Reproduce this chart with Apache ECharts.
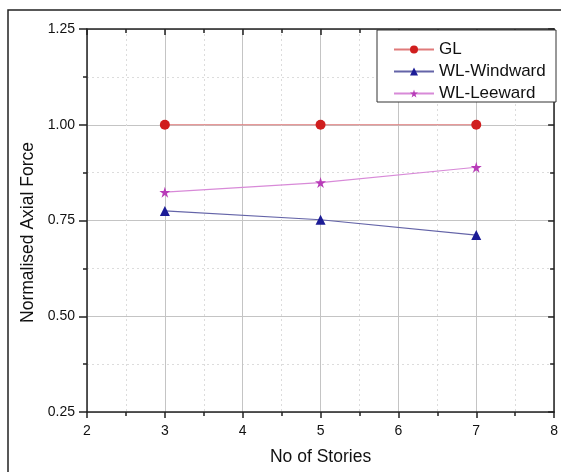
<!DOCTYPE html>
<html><head><meta charset="utf-8">
<script src="https://cdn.jsdelivr.net/npm/echarts@6/dist/echarts.min.js"></script>
<style>html,body{margin:0;padding:0;background:#fff}#c{width:561px;height:472px}</style>
</head><body><div id="c"></div>
<script>
const stories = [3, 5, 7];
const glValues = [1.0, 1.0, 1.0];
const windwardValues = [0.775, 0.752, 0.712];
const leewardValues = [0.824, 0.849, 0.889];
const seriesNames = ['GL', 'WL-Windward', 'WL-Leeward'];
const xTicks = [2, 3, 4, 5, 6, 7, 8];
const yTicks = [0.25, 0.50, 0.75, 1.00, 1.25];

const pair = (xs, ys) => xs.map((x, i) => [x, ys[i]]);
const font = 'Liberation Sans, Arial, sans-serif';
const chart = echarts.init(document.getElementById('c'), null, {renderer: 'canvas'});

const commonGrid = {
  splitLine: {show: true, lineStyle: {color: '#c4c4c4', width: 1}},
  minorSplitLine: {show: true, lineStyle: {color: '#dcdcdc', type: [2, 3], width: 1}},
};

chart.setOption({
  animation: false,
  backgroundColor: '#fff',
  grid: {left: 87, right: 5, top: 29, bottom: 60, containLabel: false},
  graphic: [
    {type: 'rect', shape: {x: 8, y: 10, width: 600, height: 500}, style: {fill: 'none', stroke: '#222', lineWidth: 1.5}, z: -1},
    {type: 'rect', shape: {x: 377, y: 30, width: 179, height: 72}, style: {fill: '#fff', stroke: '#333', lineWidth: 1}, z: 50}
  ],
  legend: {
    left: 393, top: 40.5, orient: 'vertical', itemGap: 4, itemWidth: 40, itemHeight: 10, padding: 0,
    textStyle: {fontFamily: font, fontSize: 17, color: '#111', lineHeight: 18},
    z: 60,
    data: seriesNames
  },
  xAxis: [{
    type: 'value', min: 2, max: 8, interval: 1,
    name: 'No of Stories', nameLocation: 'middle', nameGap: 36,
    nameTextStyle: {fontFamily: font, fontSize: 17.5, color: '#111'},
    axisLine: {show: true, onZero: false, lineStyle: {color: '#222', width: 1.5}},
    axisTick: {show: true, inside: false, length: 6, lineStyle: {color: '#222', width: 1.5}},
    minorTick: {show: true, splitNumber: 2, length: 4, lineStyle: {color: '#222', width: 1.5}},
    axisLabel: {fontFamily: font, fontSize: 14, color: '#111', margin: 12,
      formatter: v => xTicks.includes(v) ? String(v) : ''},
    ...commonGrid
  }, {
    type: 'value', min: 2, max: 8, interval: 1, position: 'top',
    axisLine: {show: true, onZero: false, lineStyle: {color: '#222', width: 1.5}},
    axisTick: {show: true, inside: true, length: 6, lineStyle: {color: '#222', width: 1.5}},
    minorTick: {show: true, splitNumber: 2, length: 4, lineStyle: {color: '#222', width: 1.5}},
    axisLabel: {show: false}, splitLine: {show: false}
  }],
  yAxis: [{
    type: 'value', min: 0.25, max: 1.25, interval: 0.25,
    name: 'Normalised Axial Force', nameLocation: 'middle', nameGap: 50,
    nameTextStyle: {fontFamily: font, fontSize: 17.5, color: '#111', padding: [0, 24, 0, 0]},
    axisLine: {show: true, onZero: false, lineStyle: {color: '#222', width: 1.5}},
    axisTick: {show: true, inside: false, length: 8, lineStyle: {color: '#222', width: 1.5}},
    minorTick: {show: true, splitNumber: 2, length: 4, lineStyle: {color: '#222', width: 1.5}},
    axisLabel: {fontFamily: font, fontSize: 14, color: '#111', margin: 12,
      formatter: v => v.toFixed(2)},
    ...commonGrid
  }, {
    type: 'value', min: 0.25, max: 1.25, interval: 0.25, position: 'right',
    axisLine: {show: true, onZero: false, lineStyle: {color: '#222', width: 1.5}},
    axisTick: {show: true, inside: true, length: 6, lineStyle: {color: '#222', width: 1.5}},
    minorTick: {show: true, splitNumber: 2, length: 4, lineStyle: {color: '#222', width: 1.5}},
    axisLabel: {show: false}, splitLine: {show: false}
  }],
  series: [
    {name: seriesNames[0], type: 'line', data: pair(stories, glValues),
     symbol: 'circle', symbolSize: 10,
     itemStyle: {color: '#d01e1e'}, lineStyle: {color: '#e07a7a', width: 1.2}},
    {name: seriesNames[1], type: 'line', data: pair(stories, windwardValues),
     symbol: 'triangle', symbolSize: 10,
     itemStyle: {color: '#1c1c96'}, lineStyle: {color: '#6464a8', width: 1.2}},
    {name: seriesNames[2], type: 'line', data: pair(stories, leewardValues),
     symbol: 'path://M50,0 L61,35 L98,35 L68,57 L79,91 L50,70 L21,91 L32,57 L2,35 L39,35 Z', symbolSize: 11,
     itemStyle: {color: '#b83cb8'}, lineStyle: {color: '#d88ad8', width: 1.2}}
  ]
});
</script></body></html>
